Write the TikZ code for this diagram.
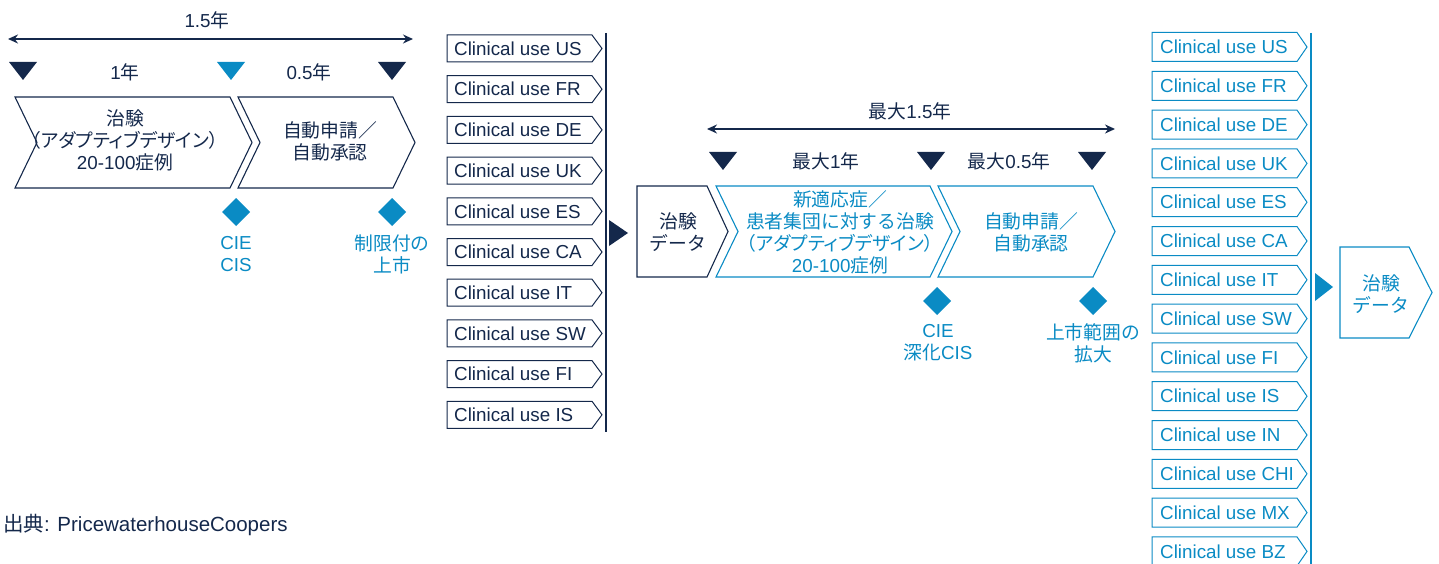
\documentclass[tikz,border=0pt]{standalone}
\usepackage{fontspec}
\setmainfont{Liberation Sans}
\newfontfamily\jp{Noto Sans CJK JP}
\newfontfamily\jpp[RawFeature=+palt]{Noto Sans CJK JP}
\usetikzlibrary{arrows.meta}
\definecolor{navy}{HTML}{14284B}
\definecolor{sky}{HTML}{0A8BC4}
% color, x1, x2, top, bottom, mid, depth
\newcommand{\chevshape}[7]{\draw[#1,line width=1.1pt,line join=miter] (#2,#4) -- (#3,#4) -- ({#3+#7},#6) -- (#3,#5) -- (#2,#5) -- ({#2+#7},#6) -- cycle;}
\newcommand{\pentshape}[7]{\draw[#1,line width=1.1pt,line join=miter] (#2,#4) -- (#3,#4) -- ({#3+#7},#6) -- (#3,#5) -- (#2,#5) -- cycle;}
\tikzset{
  txt/.style={inner sep=0pt, font=\fontsize{18.8}{22}\selectfont, align=center},
  lst/.style={inner sep=0pt, font=\fontsize{18.8}{22}\selectfont, anchor=west},
  dbl/.style={line width=1.5pt, {Stealth[length=10pt,width=9pt]}-{Stealth[length=10pt,width=9pt]}},
}
\begin{document}
\begin{tikzpicture}[x=1pt,y=-1pt]
\useasboundingbox (0,0) rectangle (1439,564);

% ---------- left timeline ----------
\node[txt,navy] (t15) at (207,20) {1.5{\jp 年}};
\coordinate (la) at (8,39);
\coordinate (lb) at (413,39);
\draw[navy,dbl] (la) -- (lb);
\fill[navy] (9,62) -- (37,62) -- (23,80) -- cycle;
\fill[sky] (217,62) -- (245,62) -- (231,80) -- cycle;
\fill[navy] (378,62) -- (406,62) -- (392,80) -- cycle;
\node[txt,navy] (t1) at (125,72) {1{\jp 年}};
\node[txt,navy] (t05) at (309,72) {0.5{\jp 年}};

\chevshape{navy}{15}{230}{97}{188}{142.5}{22}
\chevshape{navy}{238}{393}{97}{188}{142.5}{22}
\node[txt,navy] (c1) at (125,140.5) {{\jp 治験}\\{\jpp （アダプティブデザイン）}\\20-100{\jp 症例}};
\node[txt,navy] (c2) at (330,141) {{\jp 自動申請／}\\{\jp 自動承認}};

\fill[sky] (236,198) -- (250,212) -- (236,226) -- (222,212) -- cycle;
\fill[sky] (392,198) -- (406,212) -- (392,226) -- (378,212) -- cycle;
\node[txt,sky] (d1) at (236,254) {CIE\\CIS};
\node[txt,sky] (d2) at (392,254) {{\jp 制限付の}\\{\jp 上市}};

% ---------- list 1 ----------
\foreach \t [count=\i from 0] in {US,FR,DE,UK,ES,CA,IT,SW,FI,IS} {
  \pgfmathsetmacro\c{48.5+40.7*\i}
  \draw[navy,line width=1pt,line join=miter] (447,\c-13.5) -- (592,\c-13.5) -- (602,\c) -- (592,\c+13.5) -- (447,\c+13.5) -- cycle;
  \node[lst,navy] (a\i) at (454,\c) {Clinical use \t};
}
\draw[navy,line width=1.2pt] (606,33) -- (606,432);
\fill[navy] (609,220) -- (628,233) -- (609,246) -- cycle;

% ---------- middle ----------
\pentshape{navy}{637}{707}{186}{277}{231.5}{21}
\node[txt,navy] (p1) at (678,232) {{\jp 治験}\\{\jp データ}};

\node[txt,navy] (m15) at (910,111) {{\jp 最大}1.5{\jp 年}};
\coordinate (ma) at (707,129);
\coordinate (mb) at (1115,129);
\draw[navy,dbl] (ma) -- (mb);
\fill[navy] (709,152) -- (737,152) -- (723,170) -- cycle;
\fill[navy] (917,152) -- (945,152) -- (931,170) -- cycle;
\fill[navy] (1078,152) -- (1106,152) -- (1092,170) -- cycle;
\node[txt,navy] (m1) at (826,161) {{\jp 最大}1{\jp 年}};
\node[txt,navy] (m05) at (1009,161) {{\jp 最大}0.5{\jp 年}};

\chevshape{sky}{716}{930}{186}{277}{231.5}{22}
\chevshape{sky}{938}{1093}{186}{277}{231.5}{22}
\node[txt,sky] (c3) at (840,232.5) {{\jp 新適応症／}\\{\jp 患者集団に対する治験}\\{\jpp （アダプティブデザイン）}\\20-100{\jp 症例}};
\node[txt,sky] (c4) at (1031,232.5) {{\jp 自動申請／}\\{\jp 自動承認}};

\fill[sky] (937,287) -- (951,301) -- (937,315) -- (923,301) -- cycle;
\fill[sky] (1093,287) -- (1107,301) -- (1093,315) -- (1079,301) -- cycle;
\node[txt,sky] (d3) at (938,343) {CIE\\{\jp 深化}CIS};
\node[txt,sky] (d4) at (1093,343) {{\jp 上市範囲の}\\{\jp 拡大}};

% ---------- list 2 ----------
\foreach \t [count=\i from 0] in {US,FR,DE,UK,ES,CA,IT,SW,FI,IS,IN,CHI,MX,BZ} {
  \pgfmathsetmacro\c{47+38.8*\i}
  \draw[sky,line width=1pt,line join=miter] (1152,\c-14.5) -- (1297,\c-14.5) -- (1307,\c) -- (1297,\c+14.5) -- (1152,\c+14.5) -- cycle;
  \node[lst,sky] (b\i) at (1160,\c) {Clinical use \t};
}
\draw[sky,line width=2pt] (1311,33) -- (1311,564);
\fill[sky] (1315,273) -- (1333,287) -- (1315,301) -- cycle;

\pentshape{sky}{1340}{1409}{247}{338}{292.5}{23}
\node[txt,sky] (p2) at (1381,294) {{\jp 治験}\\{\jp データ}};

% ---------- source ----------
\node[lst,navy,font=\fontsize{20.5}{24}\selectfont] (src) at (3,525) {{\jp 出典}: PricewaterhouseCoopers};
\end{tikzpicture}
\end{document}
